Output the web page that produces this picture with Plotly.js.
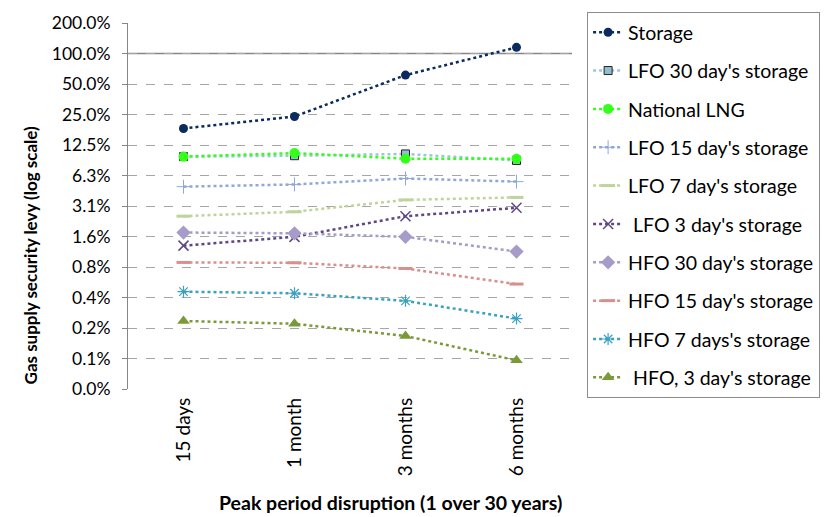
<!DOCTYPE html>
<html>
<head>
<meta charset="utf-8">
<script src="https://cdn.plot.ly/plotly-3.0.1.min.js"></script>
<style>html,body{margin:0;padding:0;background:#fff;}#chart{width:836px;height:517px;}</style>
</head>
<body>
<div id="chart"></div>
<script>
const categories = ["15 days", "1 month", "3 months", "6 months"];
const seriesNames = ["Storage", "LFO 30 day's storage", "National LNG", "LFO 15 day's storage", "LFO 7 day's storage", " LFO 3 day's storage", "HFO 30 day's storage", "HFO 15 day's storage", "HFO 7 days's storage", " HFO, 3 day's storage"];
const storage = [0.182, 0.239, 0.612, 1.15];
const lfo30 = [0.096, 0.098, 0.102, 0.088];
const nationalLNG = [0.096, 0.104, 0.0915, 0.0916];
const lfo15 = [0.0485, 0.051, 0.0584, 0.0544];
const lfo7 = [0.0248, 0.0274, 0.0359, 0.038];
const lfo3 = [0.0127, 0.0155, 0.0248, 0.030];
const hfo30 = [0.0171, 0.0168, 0.0155, 0.0111];
const hfo15 = [0.00867, 0.0086, 0.00755, 0.0053];
const hfo7 = [0.00446, 0.0043, 0.00362, 0.00242];
const hfo3 = [0.00229, 0.00215, 0.00163, 0.000936];
const tickVals = [2, 1, 0.5, 0.25, 0.125, 0.0625, 0.03125, 0.015625, 0.0078125, 0.00390625, 0.001953125, 0.0009765625, 0.00048828125];
const tickText = ["200.0%", "100.0%", "50.0%", "25.0%", "12.5%", "6.3%", "3.1%", "1.6%", "0.8%", "0.4%", "0.2%", "0.1%", "0.0%"];
const yTitle = "Gas supply security levy (log scale)";
const xTitle = "Peak period disruption (1 over 30 years)";

const values = [storage, lfo30, nationalLNG, lfo15, lfo7, lfo3, hfo30, hfo15, hfo7, hfo3];
const styles = [
  {lc: "#0B2A5E", m: {symbol: "circle", size: 9, color: "#0B2A5E"}},
  {lc: "#9CC6DC", m: {symbol: "square", size: 8, color: "#93BDD0", line: {color: "#222", width: 1}}},
  {lc: "#33FF1A", m: {symbol: "circle", size: 10, color: "#33FF1A"}},
  {lc: "#8FA9D6", m: {symbol: "cross-thin-open", size: 10, color: "#8FA9D6", line: {color: "#8FA9D6", width: 1}}},
  {lc: "#BFD49A", m: {symbol: "line-ew-open", size: 10, color: "#BFD49A", line: {color: "#BFD49A", width: 3}}},
  {lc: "#5E4784", m: {symbol: "x-thin-open", size: 10, color: "#5E4784", line: {color: "#5E4784", width: 1.5}}},
  {lc: "#A79BC8", m: {symbol: "diamond", size: 11, color: "#A79BC8"}},
  {lc: "#D98F8C", m: {symbol: "line-ew-open", size: 10, color: "#D98F8C", line: {color: "#D98F8C", width: 3}}},
  {lc: "#3AA2C0", m: {symbol: "asterisk-open", size: 10, color: "#3AA2C0", line: {color: "#3AA2C0", width: 1.2}}},
  {lc: "#7A9A3A", m: {symbol: "triangle-up", size: 11, color: "#7A9A3A"}}
];

const traces = values.map((v, i) => ({
  type: "scatter", mode: "lines+markers",
  x: categories, y: v, name: seriesNames[i],
  legendgroup: "g" + i,
  line: {color: styles[i].lc, dash: "dot", width: 2.5},
  marker: styles[i].m
}));

const FONT = "Lato, 'Open Sans', sans-serif";
const layout = {
  width: 836, height: 517,
  margin: {l: 128, r: 264, t: 17, b: 128},
  paper_bgcolor: "#fff", plot_bgcolor: "#fff",
  font: {family: FONT, color: "#000", size: 17},
  showlegend: true,
  legend: {
    x: 1.034, y: 1.03, xanchor: "left", yanchor: "top",
    bordercolor: "#8c8c8c", borderwidth: 1,
    font: {size: 19.5, family: FONT},
    traceorder: "grouped", tracegroupgap: 10, maxheight: 500
  },
  xaxis: {
    type: "category", range: [-0.5, 3.5],
    showgrid: false, showline: false, zeroline: false,
    ticks: "", tickangle: -90, ticklabelstandoff: 4,
    tickfont: {size: 19}
  },
  yaxis: {
    type: "log",
    range: [Math.log10(0.00048828125), Math.log10(2)],
    tickvals: tickVals, ticktext: tickText,
    showgrid: true, gridcolor: "#a6a6a6", griddash: "dash", gridwidth: 1,
    showline: true, linecolor: "#868686", linewidth: 1,
    ticks: "outside", ticklen: 5, tickcolor: "#868686", ticklabelstandoff: 8,
    zeroline: false, tickfont: {size: 17.5}
  },
  annotations: [
    {text: yTitle, textangle: -90, xref: "paper", yref: "paper", x: -0.2207, y: 0.365, xanchor: "center", yanchor: "middle", showarrow: false, font: {size: 17, weight: "bold", family: FONT}},
    {text: xTitle, xref: "paper", yref: "paper", x: 0.592, y: -0.309, xanchor: "center", yanchor: "middle", showarrow: false, font: {size: 19.5, weight: "bold", family: FONT}}
  ],
  shapes: [{type: "line", xref: "paper", x0: 0, x1: 1, yref: "y", y0: 1, y1: 1, line: {color: "#868686", width: 1.5}, layer: "below"}]
};

Plotly.newPlot("chart", traces, layout, {displayModeBar: false, staticPlot: true});
</script>
</body>
</html>
